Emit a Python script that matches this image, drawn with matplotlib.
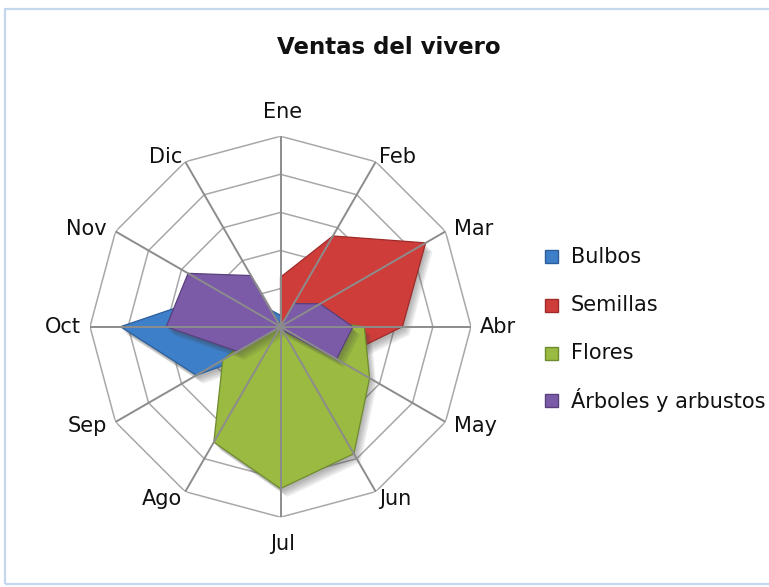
import numpy as np
import matplotlib
matplotlib.use("Agg")
import matplotlib.pyplot as plt
import matplotlib.patheffects as pe
from matplotlib.patches import Rectangle

meses = ['Ene', 'Feb', 'Mar', 'Abr', 'May', 'Jun',
         'Jul', 'Ago', 'Sep', 'Oct', 'Nov', 'Dic']
series = ['Bulbos', 'Semillas', 'Flores', 'Árboles y arbustos']
bulbos = [3, 3, 3, 3, 3, 4, 5, 7, 25.5, 42, 18, 5]
semillas = [13, 27.5, 44, 32, 17, 5, 3, 2, 1, 0, 0, 0]
flores = [1, 1, 5, 22, 27, 38.5, 42.5, 35, 17.5, 5, 2, 1]
arboles = [0, 7, 12, 19, 17, 1, 0, 0, 13, 30, 28, 15.5]
niveles = [10, 20, 30, 40, 50]

colores = ['#3d7fc9', '#cf3d3a', '#9aba42', '#7b5ba7']
bordes = ['#2c5f9a', '#9e2b2a', '#6f8a2e', '#58407c']

W, H = 769, 587
fig = plt.figure(figsize=(W / 100, H / 100), dpi=100)
fig.patch.set_facecolor('white')

# light chart-area frame (runs off the right edge)
fig.patches.append(Rectangle((5 / W, 3 / H), 1.2, (584 - 9) / H,
                             transform=fig.transFigure, fill=False,
                             edgecolor='#c5d7ee', lw=1.6))

cx, cy, R = 280.5, 326.7, 190.5
ax = fig.add_axes([(cx - R) / W, (H - cy - R) / H, 2 * R / W, 2 * R / H],
                  projection='polar')
ax.set_theta_zero_location('N')
ax.set_theta_direction(-1)
ax.set_ylim(0, niveles[-1])
ax.grid(False)
ax.spines['polar'].set_visible(False)
ax.set_xticks([])
ax.set_yticks([])
ax.patch.set_alpha(0)

ang = np.linspace(0, 2 * np.pi, len(meses), endpoint=False)
ang_c = np.append(ang, ang[0])

# polygon rings under the filled areas
for n in niveles:
    ax.plot(ang_c, [n] * (len(meses) + 1), color='#a8a8a8', lw=1.1, zorder=1)

# soft drop shadow built from a few faint offset copies
sombra = [pe.SimplePatchShadow(offset=(k, -k - 1), shadow_rgbFace='#404040',
                               alpha=0.09) for k in (1, 2, 3, 4, 5)]

datos = [bulbos, semillas, flores, arboles]
for i, vals in enumerate(datos):
    v = np.append(vals, vals[0])
    poly, = ax.fill(ang_c, v, color=colores[i], zorder=2 + i)
    poly.set_edgecolor(bordes[i])
    poly.set_linewidth(0.9)
    poly.set_path_effects(sombra + [pe.Normal()])

# spokes drawn over the areas
for a in ang:
    ax.plot([a, a], [0, niveles[-1]], color='#8c8c8c', lw=1.4, zorder=10)

# month labels beside the outer vertices
for a, m in zip(ang, meses):
    s, c = np.sin(a), np.cos(a)
    if abs(s) < 1e-6:
        ha, dx, dy = 'center', 2, 24 if c > 0 else -27
    else:
        ha = 'left' if s > 0 else 'right'
        dx = (3 if abs(s) < 0.6 else 9) * np.sign(s)
        dy = 5 * c if c > 0 else 9 * c
    ax.annotate(m, xy=(a, niveles[-1]), xytext=(dx, dy),
                textcoords='offset pixels', ha=ha, va='center',
                fontsize=15, color='#111111', zorder=11)

fig.text(389 / W, 1 - 48 / H, 'Ventas del vivero', ha='center', va='center',
         fontsize=16.5, fontweight='bold', color='#111111')

# legend
ys = [256.7, 305, 353.3, 400]
for nombre, col, bor, y in zip(series, colores, bordes, ys):
    fig.patches.append(Rectangle((545 / W, 1 - (y + 6.5) / H), 13 / W, 13 / H,
                                 transform=fig.transFigure, facecolor=col,
                                 edgecolor=bor, lw=1))
    fig.text(571 / W, 1 - y / H, nombre, ha='left', va='center',
             fontsize=15, color='#111111')

fig.savefig('out.png', dpi=100)
